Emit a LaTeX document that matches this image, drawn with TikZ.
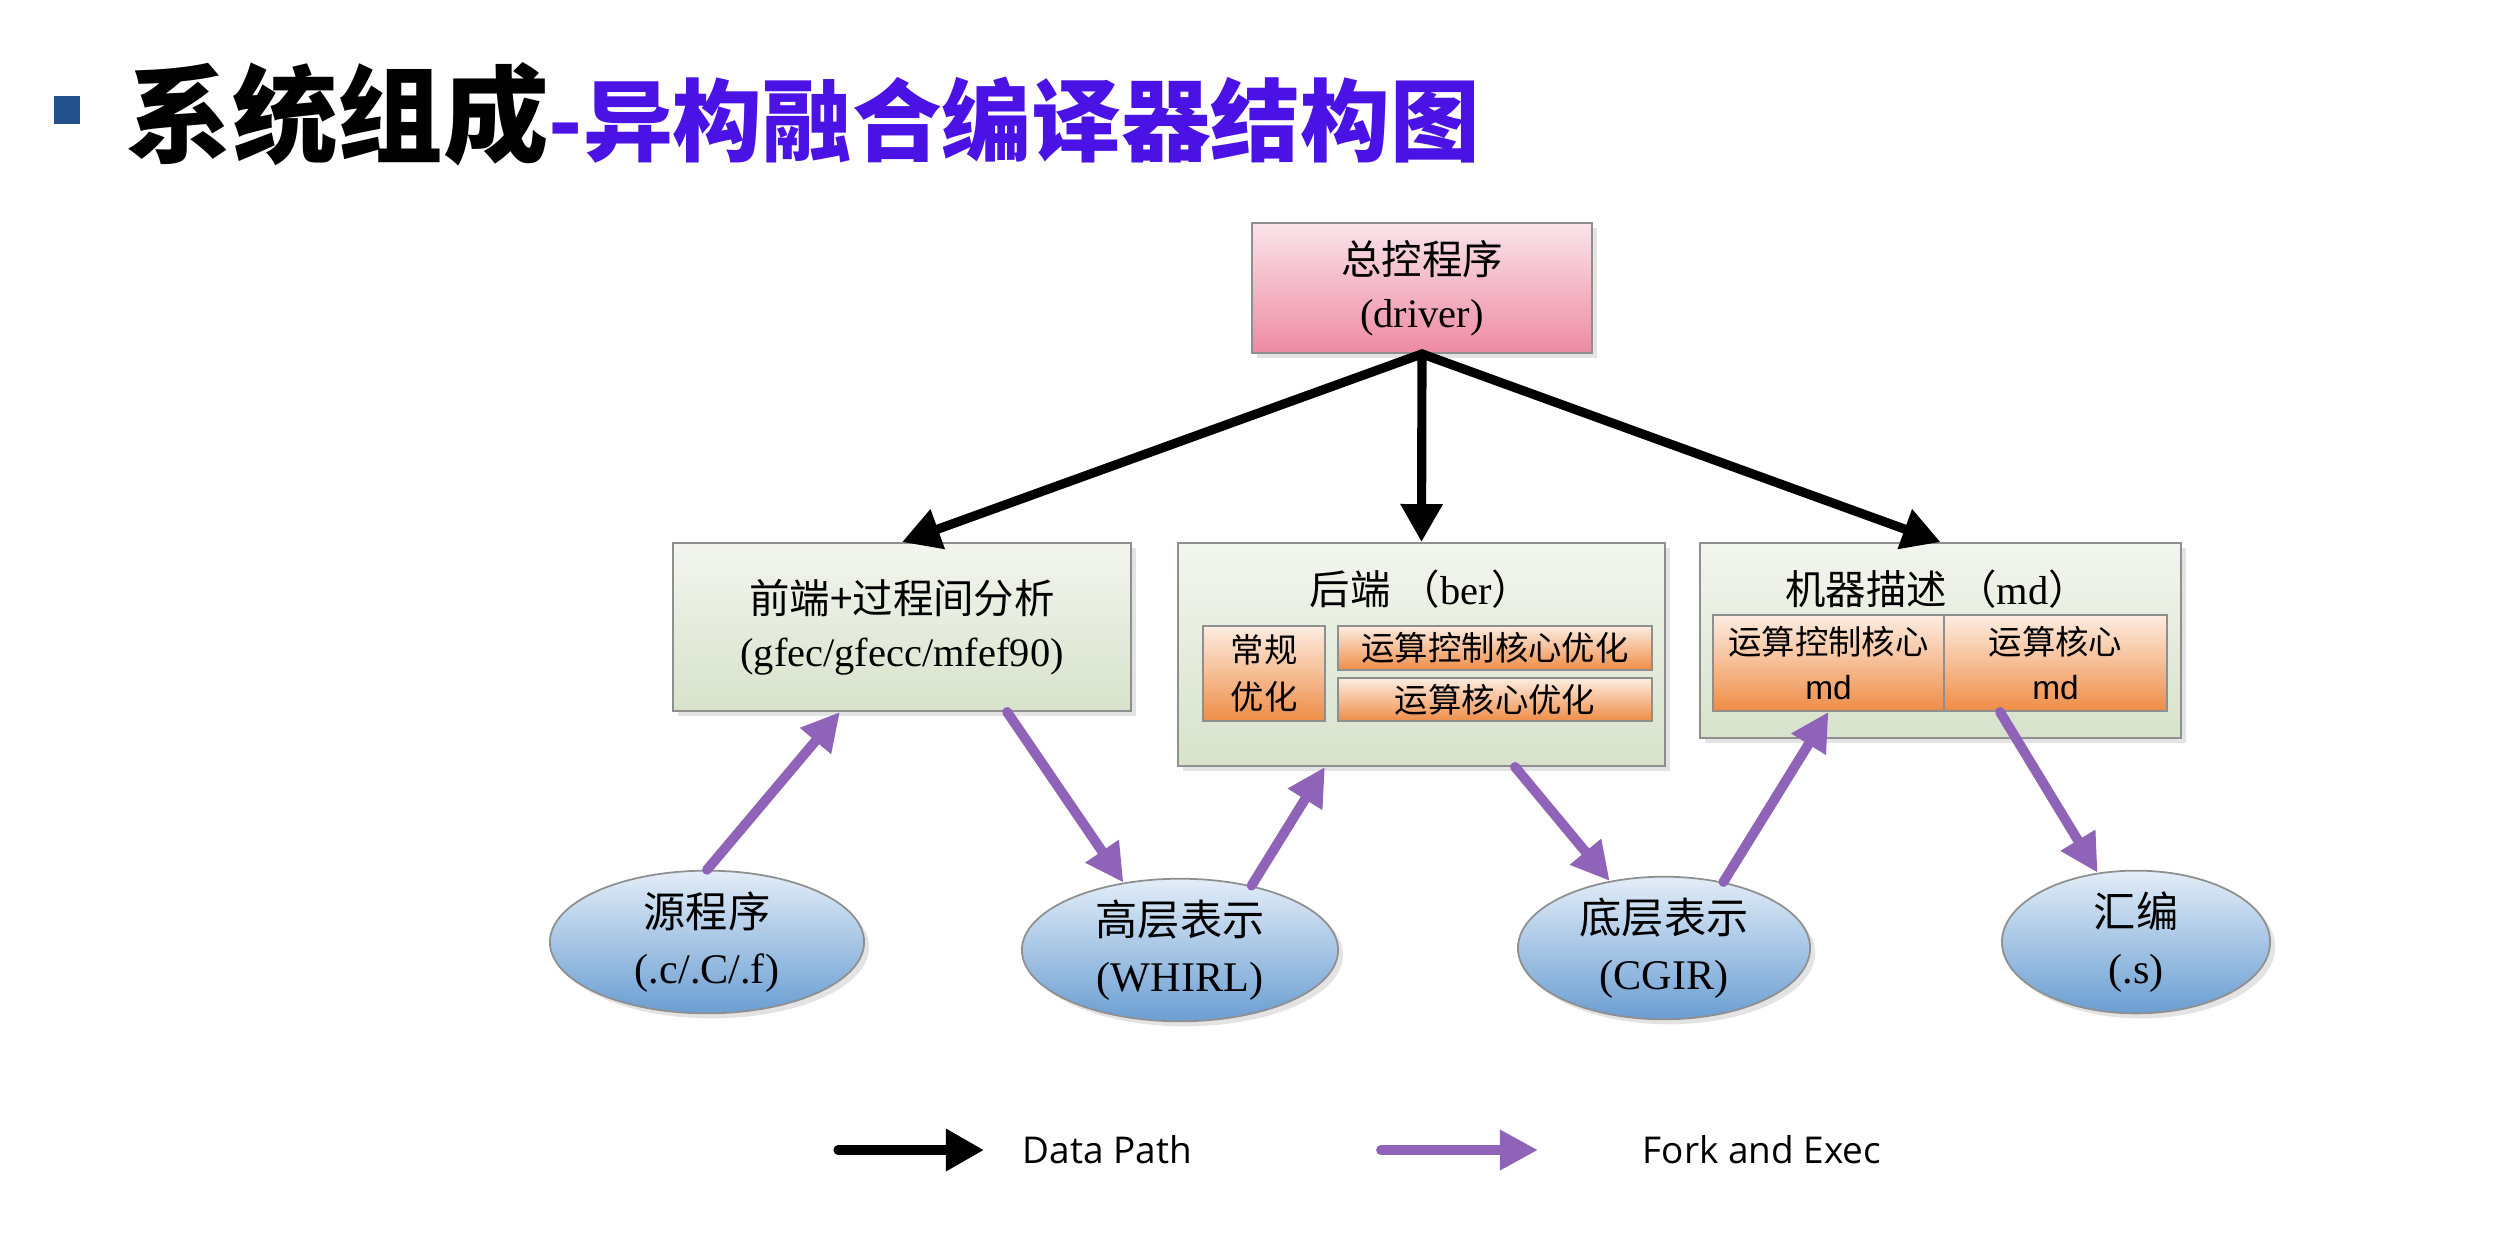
\documentclass[tikz,border=0pt]{standalone}
\usepackage{fontspec}
\setmainfont{Liberation Serif}
\newfontfamily\cjk{Noto Sans CJK SC}
\newfontfamily\legendfont{Open Sans}
\newfontfamily\mdfont{Liberation Sans}
\usetikzlibrary{arrows.meta,shapes.geometric,shadows}
\definecolor{titleblue}{HTML}{4A12E4}
\definecolor{bulletblue}{HTML}{22508A}
\definecolor{arrowpurple}{HTML}{8E63B8}
\definecolor{pinktop}{HTML}{FAE4EA}
\definecolor{pinkbot}{HTML}{EE8AA3}
\definecolor{greentop}{HTML}{F3F5EF}
\definecolor{greenbot}{HTML}{D7E2CB}
\definecolor{orangetop}{HTML}{FDEDE1}
\definecolor{orangebot}{HTML}{EF8D47}
\definecolor{bluetop}{HTML}{E3EDF8}
\definecolor{bluebot}{HTML}{6A9ED2}
\definecolor{edgegray}{HTML}{8F8F8F}
\tikzset{
  shad/.style={drop shadow={opacity=0.22, shadow xshift=0.05cm, shadow yshift=-0.05cm}},
  mainbox/.style={rectangle, draw=edgegray, line width=0.5pt, inner sep=0pt, shad,
    top color=greentop, bottom color=greenbot, align=center,
    font=\fontsize{11.5}{15}\selectfont},
  drvbox/.style={mainbox, top color=pinktop, bottom color=pinkbot},
  subbox/.style={rectangle, draw=edgegray, line width=0.5pt, inner sep=0pt,
    top color=orangetop, bottom color=orangebot, align=center,
    font=\fontsize{9.5}{13.5}\selectfont},
  oval/.style={ellipse, draw=edgegray, line width=0.5pt, inner sep=0pt, shad,
    top color=bluetop, bottom color=bluebot, align=center,
    font=\fontsize{12}{16}\selectfont},
  datapath/.style={draw=black, line width=2.6pt, line cap=round,
    -{Triangle[length=0.38cm,width=0.4cm]}},
  forkexec/.style={draw=arrowpurple, line width=2.8pt, line cap=round,
    -{Triangle[length=0.38cm,width=0.38cm]}},
  legtext/.style={anchor=west, inner sep=0pt, font=\legendfont\fontsize{10.5}{12}\selectfont},
  boxtitle/.style={inner sep=0pt, font=\fontsize{11.5}{15}\selectfont}
}
\begin{document}
\begin{tikzpicture}[x=0.01cm,y=-0.01cm]
\useasboundingbox (0,0) rectangle (2512,1254);
\fill[white] (0,0) rectangle (2512,1254);

% title
\node[fill=bulletblue, minimum width=0.26cm, minimum height=0.28cm, inner sep=0pt] (bullet) at (67,110) {};
\node[anchor=west, inner sep=0pt] (title) at (126,114)
  {{\cjk\bfseries\fontsize{30}{35}\selectfont 系统组成}{\cjk\bfseries\fontsize{25.5}{30}\selectfont\color{titleblue}-异构融合编译器结构图}};

% top level boxes
\node[drvbox, minimum width=3.4cm, minimum height=1.3cm] (driver) at (1422,288)
  {{\cjk 总控程序}\\(driver)};
\node[mainbox, minimum width=4.58cm, minimum height=1.68cm] (fe) at (902,627)
  {{\cjk 前端+过程间分析}\\(gfec/gfecc/mfef90)};
\node[mainbox, minimum width=4.87cm, minimum height=2.23cm] (be) at (1421.5,654.5) {};
\node[boxtitle] (betitle) at (1421,589) {{\cjk 后端\ （}ber{\cjk ）}};
\node[subbox, minimum width=1.22cm, minimum height=0.95cm] (begen) at (1264,673.5)
  {{\cjk 常规}\\{\cjk 优化}};
\node[subbox, minimum width=3.14cm, minimum height=0.44cm] (bectl) at (1495,648)
  {\cjk 运算控制核心优化};
\node[subbox, minimum width=3.14cm, minimum height=0.43cm] (becore) at (1495,699.5)
  {\cjk 运算核心优化};

\node[mainbox, minimum width=4.81cm, minimum height=1.95cm] (md) at (1940.5,640.5) {};
\node[boxtitle] (mdtitle) at (1937,589) {{\cjk 机器描述\ （}md{\cjk ）}};
\node[subbox, minimum width=2.31cm, minimum height=0.96cm, font=\fontsize{9.5}{13}\selectfont] (mdctl) at (1828.5,663)
  {{\cjk 运算控制核心}\\{\mdfont md}};
\node[subbox, minimum width=2.23cm, minimum height=0.96cm, font=\fontsize{9.5}{13}\selectfont] (mdcore) at (2055.5,663)
  {{\cjk 运算核心}\\{\mdfont md}};

% ellipses
\node[oval, minimum width=3.14cm, minimum height=1.38cm] (src) at (707,942)
  {{\cjk 源程序}\\(.c/.C/.f)};
\node[oval, minimum width=3.16cm, minimum height=1.36cm] (hir) at (1180,950)
  {{\cjk 高层表示}\\(WHIRL)};
\node[oval, minimum width=2.92cm, minimum height=1.36cm] (lir) at (1664,948)
  {{\cjk 底层表示}\\(CGIR)};
\node[oval, minimum width=2.68cm, minimum height=1.38cm] (asm) at (2136,942)
  {{\cjk 汇编}\\(.s)};

% data path arrows
\draw[datapath] (driver.south) -- (fe.north);
\draw[datapath] (driver.south) -- (be.north);
\draw[datapath] (driver.south) -- (md.north);

% fork and exec arrows
\draw[forkexec] (src.north) -- ([xshift=-0.62cm]fe.south);
\draw[forkexec] ([xshift=1.05cm]fe.south) -- (hir.130);
\draw[forkexec] (hir.42) -- ([xshift=-0.965cm]be.south);
\draw[forkexec] ([xshift=0.935cm]be.south) -- (lir.129);
\draw[forkexec] (lir.48) -- (mdctl.south);
\draw[forkexec] ([xshift=-0.555cm]mdcore.south) -- (asm.119);

% legend
\coordinate (lga) at (838,1150);
\coordinate (lgb) at (984,1150);
\coordinate (lgc) at (1381,1150);
\coordinate (lgd) at (1538,1150);
\draw[datapath] (lga) -- (lgb);
\draw[forkexec] (lgc) -- (lgd);
\node[legtext] (lgdata) at (1022,1150) {Data Path};
\node[legtext] (lgfork) at (1642,1150) {Fork and Exec};
\end{tikzpicture}
\end{document}
